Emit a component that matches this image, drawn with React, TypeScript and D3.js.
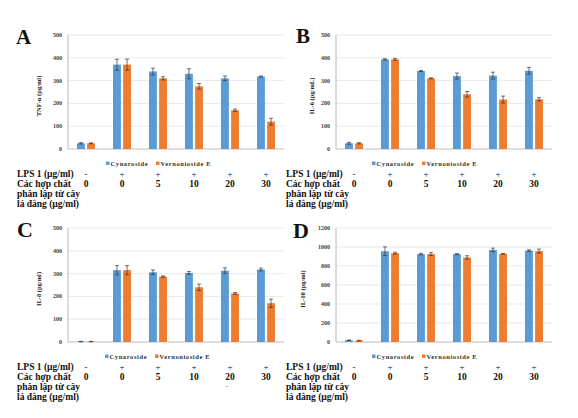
import React from 'react';
import * as d3 from 'd3';

const groups = ['g1', 'g2', 'g3', 'g4', 'g5', 'g6'];
const seriesNames = ['Cynaroside', 'Vernonioside E'];
const lpsRow = ['-', '+', '+', '+', '+', '+'];
const concRow = ['0', '0', '5', '10', '20', '30'];
const rowLabels = ['LPS 1 (µg/ml)', 'Các hợp chất', 'phân lập từ cây', 'lá đắng (µg/ml)'];

const tnfCyn = [25, 370, 340, 330, 310, 318];
const tnfCynErr = [3, 24, 15, 22, 10, 2];
const tnfVer = [25, 370, 310, 275, 170, 120];
const tnfVerErr = [2, 24, 7, 12, 5, 15];

const il6Cyn = [25, 393, 342, 320, 322, 343];
const il6CynErr = [4, 3, 2, 13, 15, 15];
const il6Ver = [25, 393, 310, 240, 217, 218];
const il6VerErr = [3, 4, 2, 12, 15, 7];

const il8Cyn = [2, 315, 306, 303, 313, 318];
const il8CynErr = [1, 20, 10, 6, 12, 6];
const il8Ver = [2, 315, 287, 240, 213, 170];
const il8VerErr = [1, 20, 3, 14, 4, 18];

const il10Cyn = [18, 955, 925, 925, 970, 962];
const il10CynErr = [3, 46, 8, 5, 18, 8];
const il10Ver = [15, 935, 925, 890, 928, 957];
const il10VerErr = [3, 10, 15, 18, 3, 21];

const ticks500 = [0, 100, 200, 300, 400, 500];
const ticks1200 = [0, 200, 400, 600, 800, 1000, 1200];

const COLORS = ['#5B9BD5', '#ED7D31'];
const SERIF = "'Liberation Serif', 'Times New Roman', 'DejaVu Serif', serif";

type PanelProps = {
  letter: string;
  letterX: number;
  letterY: number;
  letterSize: number;
  yLabel: string;
  yLabelX: number;
  left: number;
  right: number;
  top: number;
  bottom: number;
  ymax: number;
  ticks: number[];
  cyn: number[];
  cynErr: number[];
  ver: number[];
  verErr: number[];
  rowX: number;
  legendX: number;
  stray?: boolean;
};

function Panel(p: PanelProps) {
  const x0 = d3.scaleBand<string>().domain(groups).range([p.left, p.right]).paddingInner(0.5).paddingOuter(0.25);
  const x1 = d3.scaleBand<string>().domain(seriesNames).range([0, x0.bandwidth()]).paddingInner(0.22);
  const y = d3.scaleLinear().domain([0, p.ymax]).range([p.bottom, p.top]);
  const values = [p.cyn, p.ver];
  const errs = [p.cynErr, p.verErr];
  const center = (g: string) => (x0(g) as number) + x0.bandwidth() / 2;
  const legY = p.bottom + 14.5;
  const rowCenters = [25, 34.5, 44.5, 54.5].map((d) => p.bottom + d + 3.2);
  return (
    <g style={{ fontFamily: SERIF }}>
      <text x={p.letterX} y={p.letterY} fontWeight="bold" fontSize={p.letterSize} fill="#111">
        {p.letter}
      </text>
      {p.ticks.map((t) => (
        <g key={t}>
          {t > 0 && <line x1={p.left} x2={p.right} y1={y(t)} y2={y(t)} stroke="#e3e3e3" strokeWidth={0.8} />}
          <text x={p.left - 6} y={y(t) + 2} textAnchor="end" fontWeight="bold" fontSize={6} fill="#404040">
            {t}
          </text>
        </g>
      ))}
      <line x1={p.left} x2={p.left} y1={p.top} y2={p.bottom} stroke="#a8a8a8" strokeWidth={0.8} />
      <line x1={p.left} x2={p.right} y1={p.bottom} y2={p.bottom} stroke="#b8b8b8" strokeWidth={0.9} />
      <text
        transform={`translate(${p.yLabelX},${(p.top + p.bottom) / 2 + 4}) rotate(-90)`}
        textAnchor="middle"
        fontWeight="bold"
        fontSize={6.5}
        fill="#222"
      >
        {p.yLabel}
      </text>
      {groups.map((g, gi) => (
        <g key={g}>
          {seriesNames.map((s, si) => {
            const v = values[si][gi];
            const e = errs[si][gi];
            const bx = (x0(g) as number) + (x1(s) as number);
            const bw = x1.bandwidth();
            const cx = bx + bw / 2;
            return (
              <g key={s}>
                <rect x={bx} y={y(v)} width={bw} height={p.bottom - y(v)} fill={COLORS[si]} />
                <line x1={cx} x2={cx} y1={y(v + e)} y2={y(Math.max(0, v - e))} stroke="#333" strokeWidth={0.7} />
                <line x1={cx - 2} x2={cx + 2} y1={y(v + e)} y2={y(v + e)} stroke="#333" strokeWidth={0.7} />
                <line x1={cx - 2} x2={cx + 2} y1={y(Math.max(0, v - e))} y2={y(Math.max(0, v - e))} stroke="#333" strokeWidth={0.7} />
              </g>
            );
          })}
        </g>
      ))}
      <g fontWeight="bold" fontSize={6.5} fill="#333" letterSpacing={0.6}>
        <rect x={p.legendX} y={legY - 2} width={3.5} height={3.5} fill={COLORS[0]} />
        <text x={p.legendX + 4.5} y={legY + 2}>{seriesNames[0]}</text>
        <rect x={p.legendX + 50} y={legY - 2} width={3.5} height={3.5} fill={COLORS[1]} />
        <text x={p.legendX + 54.5} y={legY + 2}>{seriesNames[1]}</text>
      </g>
      <g fontWeight="bold" fontSize={9.5} fill="#111">
        {rowLabels.map((r, i) => (
          <text key={r} x={p.rowX} y={rowCenters[i]}>
            {r}
          </text>
        ))}
        {groups.map((g, gi) => (
          <g key={g}>
            <text x={center(g)} y={rowCenters[0]} textAnchor="middle" fontWeight="normal" fontSize={9}>
              {lpsRow[gi]}
            </text>
            <text x={center(g)} y={rowCenters[1]} textAnchor="middle">
              {concRow[gi]}
            </text>
          </g>
        ))}
        {p.stray && (
          <text x={center(groups[4]) - 3} y={rowCenters[2] - 2} textAnchor="middle" fontWeight="normal" fontSize={6}>
            -
          </text>
        )}
      </g>
    </g>
  );
}

export default function App() {
  return (
    <svg
      width={578}
      height={418}
      viewBox="0 0 578 418"
      style={{ position: 'absolute', left: 0, top: 0, background: '#fff' }}
    >
      <rect x={0} y={0} width={578} height={418} fill="#fff" />
      <Panel
        letter="A" letterX={16} letterY={44} letterSize={21}
        yLabel="TNF-α (pg/ml)" yLabelX={41}
        left={68} right={284} top={35} bottom={149} ymax={500} ticks={ticks500}
        cyn={tnfCyn} cynErr={tnfCynErr} ver={tnfVer} verErr={tnfVerErr}
        rowX={17} legendX={106}
      />
      <Panel
        letter="B" letterX={296} letterY={43} letterSize={21}
        yLabel="IL-6 (pg/mL)" yLabelX={314}
        left={336} right={552} top={35} bottom={149} ymax={500} ticks={ticks500}
        cyn={il6Cyn} cynErr={il6CynErr} ver={il6Ver} verErr={il6VerErr}
        rowX={286} legendX={372}
      />
      <Panel
        letter="C" letterX={17} letterY={237} letterSize={22}
        yLabel="IL-8 (pg/ml)" yLabelX={41}
        left={68} right={284} top={228} bottom={342} ymax={500} ticks={ticks500}
        cyn={il8Cyn} cynErr={il8CynErr} ver={il8Ver} verErr={il8VerErr}
        rowX={17} legendX={105} stray
      />
      <Panel
        letter="D" letterX={293} letterY={238} letterSize={22}
        yLabel="IL-10 (pg/ml)" yLabelX={305}
        left={336} right={552} top={228} bottom={342} ymax={1200} ticks={ticks1200}
        cyn={il10Cyn} cynErr={il10CynErr} ver={il10Ver} verErr={il10VerErr}
        rowX={286} legendX={372}
      />
    </svg>
  );
}
